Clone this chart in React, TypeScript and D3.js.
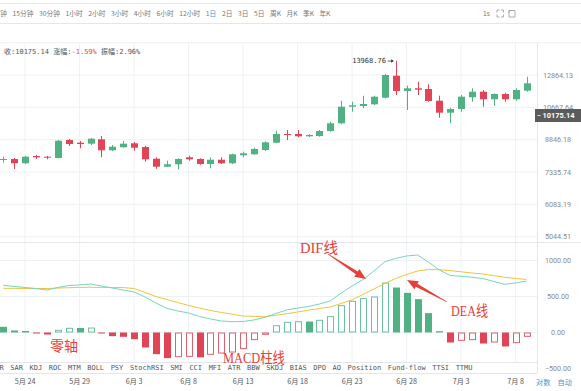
import * as d3 from "d3";

// daily candles, 2019-05-22 .. 2019-07-09
const DATES = d3.timeDay.range(new Date(2019, 4, 22), new Date(2019, 6, 10));

const OPEN = [7887, 7910, 7716, 8049, 8016, 7956, 8830, 8693, 8643, 8866, 8319, 8465, 8663, 8479, 7924, 7565, 7671, 7988, 7910, 7684, 7878, 7716, 8082, 8128, 8333, 8693, 9142, 9142, 9021, 9037, 9302, 9726, 10707, 10751, 10857, 11280, 12812, 11726, 11911, 11863, 11086, 10342, 10566, 11306, 11679, 11176, 11524, 11176, 11747];
const HIGH = [8016, 7956, 8049, 8095, 8049, 8830, 8881, 8779, 8933, 9037, 8578, 8779, 8728, 8543, 7988, 7833, 7942, 8063, 7942, 7988, 7988, 8157, 8252, 8445, 8764, 9318, 9356, 9356, 9142, 9356, 9817, 11086, 11022, 11412, 11412, 12939, 13968.76, 12092, 12375, 12190, 11412, 10645, 11458, 11911, 11794, 11571, 11611, 11911, 12738];
const LOW = [7743, 7465, 7684, 7910, 7896, 7942, 8529, 8416, 8578, 7988, 8285, 8445, 8300, 7787, 7478, 7552, 7452, 7833, 7653, 7496, 7684, 7684, 7988, 8110, 8285, 8678, 8830, 8969, 8985, 9000, 9265, 9670, 10402, 10609, 10813, 11241, 11458, 10505, 11458, 11022, 10047, 9726, 10402, 11022, 10707, 10769, 11022, 11086, 11679];
const CLOSE = [7910, 7716, 8016, 7988, 7970, 8794, 8628, 8628, 8897, 8319, 8494, 8643, 8445, 7896, 7565, 7671, 7910, 7896, 7684, 7878, 7716, 8128, 8176, 8382, 8713, 9142, 9089, 9021, 9089, 9302, 9726, 10707, 10794, 10876, 11346, 12864, 11726, 11911, 11815, 11067, 10342, 10566, 11346, 11679, 11176, 11524, 11176, 11794, 12261];

const DIF = [656, 639, 625, 611, 590, 625, 653, 660, 674, 646, 618, 590, 563, 493, 410, 336, 299, 271, 222, 188, 160, 150, 153, 174, 211, 264, 313, 340, 361, 396, 438, 549, 646, 736, 854, 983, 1028, 1063, 1076, 979, 868, 792, 781, 767, 750, 708, 669, 688, 715];
const DEA = [614, 613, 611, 610, 611, 617, 622, 626, 628, 626, 625, 624, 611, 556, 499, 458, 417, 376, 340, 306, 278, 254, 229, 224, 219, 240, 260, 285, 310, 333, 356, 403, 454, 529, 604, 681, 750, 806, 854, 875, 872, 860, 843, 826, 813, 790, 767, 751, 736];
const MACD = [79, 28, 21, -14, -28, 37, 65, 63, 69, -10, -51, -60, -93, -208, -301, -356, -343, -338, -345, -310, -292, -278, -231, -106, -32, 101, 148, 157, 152, 176, 227, 380, 440, 477, 500, 694, 625, 551, 463, 269, 18, -139, -116, -106, -153, -139, -194, -148, -60];

const PRICE_TICKS = [12864.13, 10667.64, 8846.18, 7335.74, 6083.19, 5044.51];
const MACD_TICKS = [1000, 500, 0, -500];
const LAST_PRICE = 10175.14;
const MAX_PRICE = 13968.76;

const PERIODS = ["钟", "15分钟", "30分钟", "1小时", "2小时", "3小时", "4小时", "6小时", "12小时", "1日", "2日", "3日", "5日", "周K", "月K", "季K", "年K"];
const ACTIVE_PERIOD = "1日";
const INDICATORS = ["R", "SAR", "KDJ", "ROC", "MTM", "BOLL", "PSY", "StochRSI", "SMI", "CCI", "MFI", "ATR", "BBW", "SKDJ", "BIAS", "DPO", "AO", "Position", "Fund-flow", "TTSI", "TTMU"];

const W = 581;
const H = 391;
const PLOT_R = 537;
const MAIN_TOP = 43;
const MAIN_BOT = 242.5;
const TAB_TOP = 362;
const AXIS_TOP = 373;

const UP = "#50b282";
const DOWN = "#e04456";
const GRID = "#eef1f4";
const LINE = "#e3e6ea";
const NOTE = "#e5403a";
const SANS = "'Noto Sans CJK SC', Roboto, sans-serif";
const MONO = "'DejaVu Sans Mono', 'Noto Sans CJK SC', monospace";
const SERIF = "'Liberation Serif', 'Noto Sans CJK SC', serif";

function arrowPath(x1: number, y1: number, x2: number, y2: number) {
  const dx = x2 - x1, dy = y2 - y1;
  const len = Math.hypot(dx, dy);
  const ux = dx / len, uy = dy / len;
  const nx = -uy, ny = ux;
  const hl = 11, hw = 4.6, tw = 1.7, sw = 0.3;
  const bx = x2 - ux * hl, by = y2 - uy * hl;
  const p = d3.path();
  p.moveTo(x1 + nx * sw, y1 + ny * sw);
  p.lineTo(bx + nx * tw, by + ny * tw);
  p.lineTo(bx + nx * hw, by + ny * hw);
  p.lineTo(x2, y2);
  p.lineTo(bx - nx * hw, by - ny * hw);
  p.lineTo(bx - nx * tw, by - ny * tw);
  p.lineTo(x1 - nx * sw, y1 - ny * sw);
  p.closePath();
  return p.toString();
}

export default function App() {
  const idx = d3.range(DATES.length);
  const x = d3.scalePoint<number>().domain(idx).range([3.3, 526.5]);
  const y = d3.scaleLog().domain([5044.51, 12864.13]).range([236.7, 75]);
  const ym = d3.scaleLinear().domain([-500, 1000]).range([368.5, 260.5]);
  const bw = 7;

  // one extra grid line above the top label
  const ratio = PRICE_TICKS[0] / PRICE_TICKS[1];
  const gridPrices = [PRICE_TICKS[0] * ratio, ...PRICE_TICKS];

  const dateTicks = idx.filter((i) => (i - 2) % 5 === 0 && i >= 2);
  const fmtDate = (d: Date) => `${d.getMonth() + 1}月 ${d.getDate()}`;

  const macdLine = d3.line<number>().x((_, i) => x(i)!).y((v) => ym(v));

  // toolbar layout
  const tf = 6.7;
  const textW = (s: string, f: number) =>
    Array.from(s).reduce((a, c) => a + (/[\u4e00-\u9fff]/.test(c) ? f : /[A-Z]/.test(c) ? 0.62 * f : 0.56 * f), 0);
  let tx = 0.3;
  const periodX = PERIODS.map((p) => {
    const cur = tx;
    tx += textW(p, tf) + 5.6;
    return cur;
  });

  // indicator tab layout (monospace)
  const cw = 4.21;
  let ix = -0.5;
  const indX = INDICATORS.map((s) => {
    const cur = ix;
    ix += s.length * cw + 6.6;
    return cur;
  });

  const maxI = HIGH.indexOf(MAX_PRICE);
  const maxY = y(MAX_PRICE);
  const lastY = y(LAST_PRICE);

  return (
    <svg
      width={W}
      height={H}
      style={{ position: "fixed", left: 0, top: 0, background: "#fff" }}
    >
      <defs>
        <clipPath id="mainClip">
          <rect x={0} y={MAIN_TOP} width={PLOT_R} height={MAIN_BOT - MAIN_TOP} />
        </clipPath>
        <clipPath id="macdClip">
          <rect x={0} y={MAIN_BOT} width={PLOT_R} height={AXIS_TOP - MAIN_BOT} />
        </clipPath>
      </defs>

      {/* toolbar */}
      <line x1={0} x2={W} y1={3.5} y2={3.5} stroke={LINE} />
      <line x1={0} x2={W} y1={23.5} y2={23.5} stroke={LINE} />
      {PERIODS.map((p, i) => (
        <text key={p} x={periodX[i]} y={15.8} fontSize={tf} fontFamily={SANS}
          fill={p === ACTIVE_PERIOD ? "#3d8fe0" : "#777"}>
          {p}
        </text>
      ))}
      <text x={483} y={15.8} fontSize={tf} fontFamily={SANS} fill="#777">1s</text>
      <g stroke="#999" strokeWidth={0.8} fill="none">
        <path d="M497,12.5v-2.5h2.5 M501,10h2.5v2.5 M503.5,14.5v2.5h-2.5 M499.5,17h-2.5v-2.5" />
        <path d="M509,10.5h6v6.5h-6z M509,13v-2.5h2.5" />
      </g>

      {/* grid */}
      {gridPrices.map((p) => (
        <line key={p} x1={0} x2={p === gridPrices[0] ? W : PLOT_R} y1={y(p)} y2={y(p)} stroke={GRID} />
      ))}
      {MACD_TICKS.map((v) => (
        <line key={v} x1={0} x2={PLOT_R} y1={ym(v)} y2={ym(v)} stroke={GRID} />
      ))}
      {dateTicks.map((i) => (
        <line key={i} x1={x(i)} x2={x(i)} y1={MAIN_TOP} y2={AXIS_TOP} stroke={GRID} />
      ))}
      <line x1={0} x2={W} y1={MAIN_BOT} y2={MAIN_BOT} stroke={LINE} />
      <line x1={PLOT_R + 0.5} x2={PLOT_R + 0.5} y1={MAIN_TOP} y2={AXIS_TOP} stroke={LINE} />

      {/* info row */}
      <g fontFamily={MONO} fontSize={7} fill="#555">
        <text x={4} y={53.5}>收:10175.14</text>
        <text x={53.3} y={53.5}>涨幅:<tspan fill={DOWN}>-1.59%</tspan></text>
        <text x={101} y={53.5}>振幅:2.96%</text>
      </g>

      {/* candles */}
      <g clipPath="url(#mainClip)">
        {idx.map((i) => {
          const up = CLOSE[i] >= OPEN[i];
          const c = up ? UP : DOWN;
          const cx = Math.round(x(i)!) + 0.5;
          const top = y(Math.max(OPEN[i], CLOSE[i]));
          const bot = y(Math.min(OPEN[i], CLOSE[i]));
          return (
            <g key={i}>
              <line x1={cx} x2={cx} y1={y(HIGH[i])} y2={y(LOW[i])} stroke={c} strokeWidth={1} />
              <rect x={cx - bw / 2} y={top} width={bw} height={Math.max(1, bot - top)} fill={c} />
            </g>
          );
        })}
      </g>

      {/* max marker */}
      <text x={x(maxI)! - 43.5} y={maxY + 2.3} fontFamily={MONO} fontSize={7} fill="#333">
        {d3.format(".2f")(MAX_PRICE)}
      </text>
      <path d={`M${x(maxI)! - 8},${maxY + 0.3}h5.5`} stroke="#333" strokeWidth={0.8} />
      <path d={`M${x(maxI)! - 2},${maxY + 0.3}l-2.5,-1.8v3.6z`} fill="#333" />

      {/* price axis */}
      {PRICE_TICKS.map((p) => (
        <text key={p} x={558} y={y(p) + 2.5} textAnchor="middle" fontFamily="Roboto, sans-serif"
          fontSize={7.2} fill="#8a8a8a">
          {d3.format(".2f")(p)}
        </text>
      ))}
      <rect x={535} y={lastY - 6.5} width={W - 535} height={13} fill="#5b5b5b" />
      <line x1={537.5} x2={540.5} y1={lastY} y2={lastY} stroke="#fff" strokeWidth={0.8} />
      <text x={558.5} y={lastY + 2.6} textAnchor="middle" fontFamily="Roboto, sans-serif"
        fontSize={7.4} fontWeight="bold" fill="#fff">
        {d3.format(".2f")(LAST_PRICE)}
      </text>

      {/* MACD */}
      <g clipPath="url(#macdClip)">
        {idx.map((i) => {
          const v = MACD[i];
          const c = v >= 0 ? UP : DOWN;
          const rising = i > 0 && v >= MACD[i - 1];
          const cx = Math.round(x(i)!);
          const y0 = ym(0);
          const y1 = ym(v);
          const top = Math.min(y0, y1);
          const h = Math.max(1, Math.abs(y1 - y0));
          return rising ? (
            <rect key={i} x={cx - 3 + 0.5} y={top + 0.5} width={bw - 1} height={Math.max(0.5, h - 1)}
              fill="#fff" stroke={v >= 0 ? "#6cc29d" : "#dc6271"} strokeWidth={1} />
          ) : (
            <rect key={i} x={cx - 3} y={top} width={bw} height={h} fill={c} />
          );
        })}
        <path d={macdLine(DEA) ?? ""} fill="none" stroke="#efc441" strokeWidth={1} />
        <path d={macdLine(DIF) ?? ""} fill="none" stroke="#76d6bb" strokeWidth={1} />
      </g>
      {MACD_TICKS.map((v) => (
        <text key={v} x={558} y={ym(v) + 2.5} textAnchor="middle" fontFamily="Roboto, sans-serif"
          fontSize={7.2} fill="#8a8a8a">
          {d3.format(".2f")(v)}
        </text>
      ))}

      {/* indicator tabs */}
      <rect x={0} y={TAB_TOP} width={PLOT_R} height={AXIS_TOP - TAB_TOP} fill="#fff" opacity={0.9} />
      <line x1={0} x2={PLOT_R} y1={TAB_TOP + 0.5} y2={TAB_TOP + 0.5} stroke={LINE} />
      <line x1={0} x2={PLOT_R} y1={AXIS_TOP + 0.5} y2={AXIS_TOP + 0.5} stroke={LINE} />
      {INDICATORS.map((s, i) => (
        <text key={s} x={indX[i]} y={370.3} fontFamily={MONO} fontSize={7} fill="#555">{s}</text>
      ))}

      {/* date axis */}
      {dateTicks.map((i) => (
        <text key={i} x={x(i)} y={383.8} textAnchor="middle" fontFamily={SANS} fontSize={7.2} fill="#555">
          {fmtDate(DATES[i])}
        </text>
      ))}
      <text x={536} y={384.5} fontFamily={SANS} fontSize={7.2} fill="#4a90d9">对数</text>
      <text x={557.5} y={384.5} fontFamily={SANS} fontSize={7.2} fill="#4a90d9">自动</text>

      {/* annotations */}
      <g fill={NOTE} fontFamily={SERIF}>
        <text x={300} y={253} fontSize={15} textLength={38} lengthAdjust="spacingAndGlyphs">DIF线</text>
        <path d={arrowPath(328, 254, 366, 279)} />
        <text x={451} y={315.5} fontSize={15} textLength={37} lengthAdjust="spacingAndGlyphs">DEA线</text>
        <path d={arrowPath(447, 302, 407, 280)} />
        <text x={50} y={351} fontSize={14} textLength={28} lengthAdjust="spacingAndGlyphs">零轴</text>
        <text x={223} y={362.5} fontSize={14.5} textLength={62} lengthAdjust="spacingAndGlyphs">MACD柱线</text>
      </g>
    </svg>
  );
}
